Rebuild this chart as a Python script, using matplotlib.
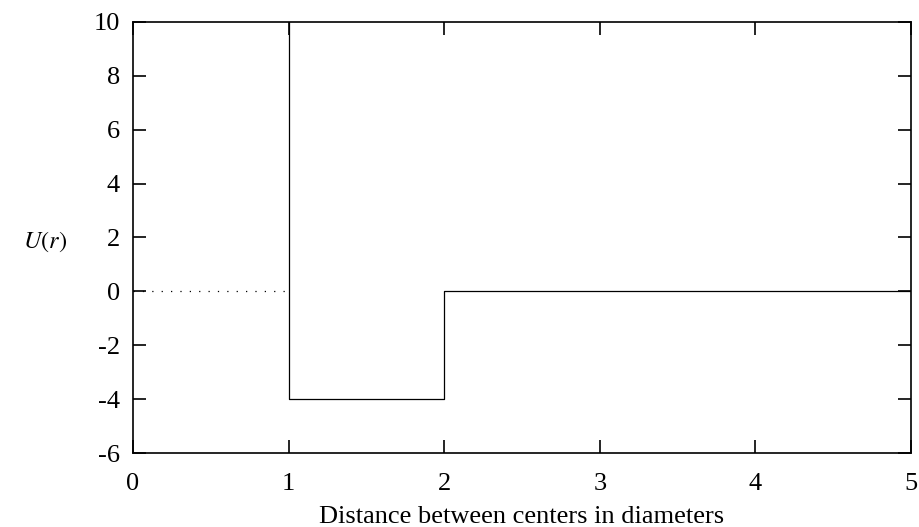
import matplotlib
matplotlib.use("Agg")
import matplotlib.pyplot as plt

# square-well potential, step outline
r_well = [1, 1, 2, 2, 5]
u_well = [10, -4, -4, 0, 0]
# dotted zero line inside the hard core
r_core = [0, 1]
u_core = [0, 0]

xticks = [0, 1, 2, 3, 4, 5]
yticks = [-6, -4, -2, 0, 2, 4, 6, 8, 10]

plt.rcParams['font.family'] = ['Liberation Serif', 'DejaVu Serif']
plt.rcParams['mathtext.fontset'] = 'stix'
plt.rcParams['axes.unicode_minus'] = False
plt.rcParams['font.size'] = 19

fig = plt.figure(figsize=(9.19, 5.27), dpi=100)
ax = fig.add_axes([0.1447, 0.1404, 0.8466, 0.8179])

ax.plot(r_well, u_well, color='black', lw=0.9)
ax.plot(r_core, u_core, color='black', lw=0.9, ls=(0, (1, 6.5)))

ax.set_xlim(0, 5)
ax.set_ylim(-6, 10)
ax.set_xticks(xticks)
ax.set_yticks(yticks)
ax.tick_params(direction='in', length=9.5, width=1.2, top=True, right=True)
ax.tick_params(axis='x', pad=14.5)
ax.tick_params(axis='y', pad=9.5)
for s in ax.spines.values():
    s.set_linewidth(1.2)

ax.set_xlabel('Distance between centers in diameters', labelpad=7.5)
fig.text(45/919, 1 - 242/527, '$U(r)$', ha='center', va='center', fontsize=17.5)

fig.savefig('out.png', dpi=100)
